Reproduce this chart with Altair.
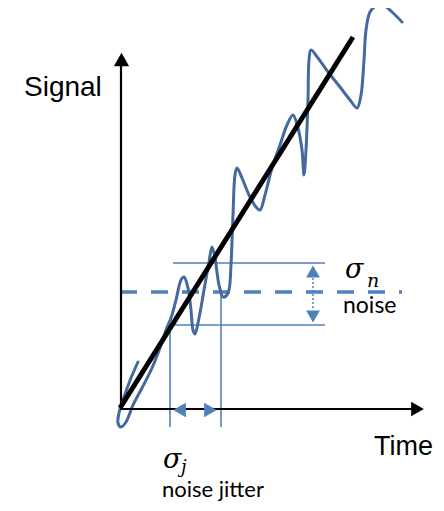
import altair as alt
import pandas as pd

# Coordinates in "time" (t) and "signal" (s) units, origin at the axes' corner
noise_t = [18, 11, 4, -1, -2, 1, 6, 13, 22, 32, 40, 46, 51, 56, 61, 64, 68, 71, 73, 75,
           79, 84, 89, 92, 95, 99, 103, 106, 109, 111, 113, 115, 117, 122, 129, 136, 140, 145, 152, 160,
           167, 173, 178, 182, 184, 186, 188, 189, 191, 198, 208, 220, 230, 237, 241, 244, 246, 250, 256, 263,
           272, 282]
noise_s = [46, 30, 11, -5, -15, -19, -14, 3, 20, 40, 60, 78, 90, 108, 128, 131, 120, 98, 78, 74,
           90, 118, 146, 161, 150, 123, 111, 112, 118, 143, 193, 233, 240, 230, 213, 201, 198, 213, 240, 263,
           283, 293, 280, 258, 233, 258, 308, 348, 358, 350, 336, 321, 308, 300, 313, 348, 378, 396, 402, 403,
           396, 386]

trend_t = [0, 233]
trend_s = [0, 371]

# axis lines
yaxis_t = [1, 1]
yaxis_s = [0, 342]
xaxis_t = [0, 292]
xaxis_s = [-1, -1]

# mean level (dashed) and noise band
mean_level = 116
band_hi = 145
band_lo = 83
band_t = [53, 205]
jit_left_t = 50
jit_right_t = 101
jit_bottom = -19
sig_arrow_t = 193

BLUE = "#4F81BD"
CURVE = "#43699F"

X = alt.X("t:Q", scale=alt.Scale(domain=[-112, 316]), axis=None)
Y = alt.Y("s:Q", scale=alt.Scale(domain=[-95, 400]), axis=None)


def seg(ts, ss, **mk):
    df = pd.DataFrame({"t": ts, "s": ss, "o": list(range(len(ts)))})
    return alt.Chart(df).mark_line(**mk).encode(x=X, y=Y, order="o:Q")


layers = []

# noise band lines
layers.append(seg(band_t, [band_hi, band_hi], color=BLUE, strokeWidth=1.6))
layers.append(seg(band_t, [band_lo, band_lo], color=BLUE, strokeWidth=1.6))
layers.append(seg([jit_left_t, jit_left_t], [band_lo, jit_bottom], color=BLUE, strokeWidth=1.6))
layers.append(seg([jit_right_t, jit_right_t], [mean_level, jit_bottom], color=BLUE, strokeWidth=1.6))
# dashed mean line
layers.append(seg([0, 282], [mean_level, mean_level], color=BLUE, strokeWidth=3.5, strokeDash=[17, 14]))
# dotted arrow shaft
layers.append(seg([sig_arrow_t, sig_arrow_t], [130, 98], color=BLUE, strokeWidth=1.5, strokeDash=[2, 2]))

# noisy signal
layers.append(seg(noise_t, noise_s, color=CURVE, strokeWidth=3, interpolate="catmull-rom",
                  strokeJoin="round", strokeCap="round"))

# trend line
layers.append(seg(trend_t, trend_s, color="black", strokeWidth=5))

# axes
layers.append(seg(yaxis_t, yaxis_s, color="black", strokeWidth=2.2))
layers.append(seg(xaxis_t, xaxis_s, color="black", strokeWidth=2.2))

# arrow heads
heads = pd.DataFrame({
    "t": [1.5, 297.5, sig_arrow_t, sig_arrow_t, 59.5, 90.5],
    "s": [348.5, -1, 136.5, 91.5, -2, -2],
    "shape": ["triangle-up", "triangle-right", "triangle-up", "triangle-down", "triangle-left", "triangle-right"],
    "col": ["black", "black", BLUE, BLUE, BLUE, BLUE],
    "sz": [235, 215, 190, 190, 215, 215],
})
layers.append(
    alt.Chart(heads).mark_point(filled=True, opacity=1, strokeWidth=0).encode(
        x=X, y=Y,
        shape=alt.Shape("shape:N", scale=None),
        color=alt.Color("col:N", scale=None),
        size=alt.Size("sz:Q", scale=None),
    )
)


def txt(t, s, label, font, size, style="normal", color="black"):
    df = pd.DataFrame({"t": [t], "s": [s], "label": [label]})
    return alt.Chart(df).mark_text(
        align="left", baseline="alphabetic", font=font, fontSize=size,
        fontStyle=style, color=color
    ).encode(x=X, y=Y, text="label:N")


layers.append(txt(-96, 312, "Signal", "Liberation Sans", 28))
layers.append(txt(254, -47, "Time", "Liberation Sans", 27))
layers.append(txt(225, 130, "σ", "DejaVu Serif", 27, "italic"))
layers.append(txt(247, 121, "n", "DejaVu Serif", 19, "italic"))
layers.append(txt(223, 95, "noise", "Lato", 23))
layers.append(txt(43, -60, "σ", "DejaVu Serif", 27, "italic"))
layers.append(txt(61, -65, "j", "DejaVu Serif", 18, "italic"))
layers.append(txt(42, -89, "noise jitter", "Lato", 22))

chart = alt.layer(*layers).properties(
    width=428, height=495, padding=0, autosize=alt.AutoSizeParams(type="none")
).configure_view(stroke=None)

chart.save("out.html", embed_options={"renderer": "svg", "actions": False})
